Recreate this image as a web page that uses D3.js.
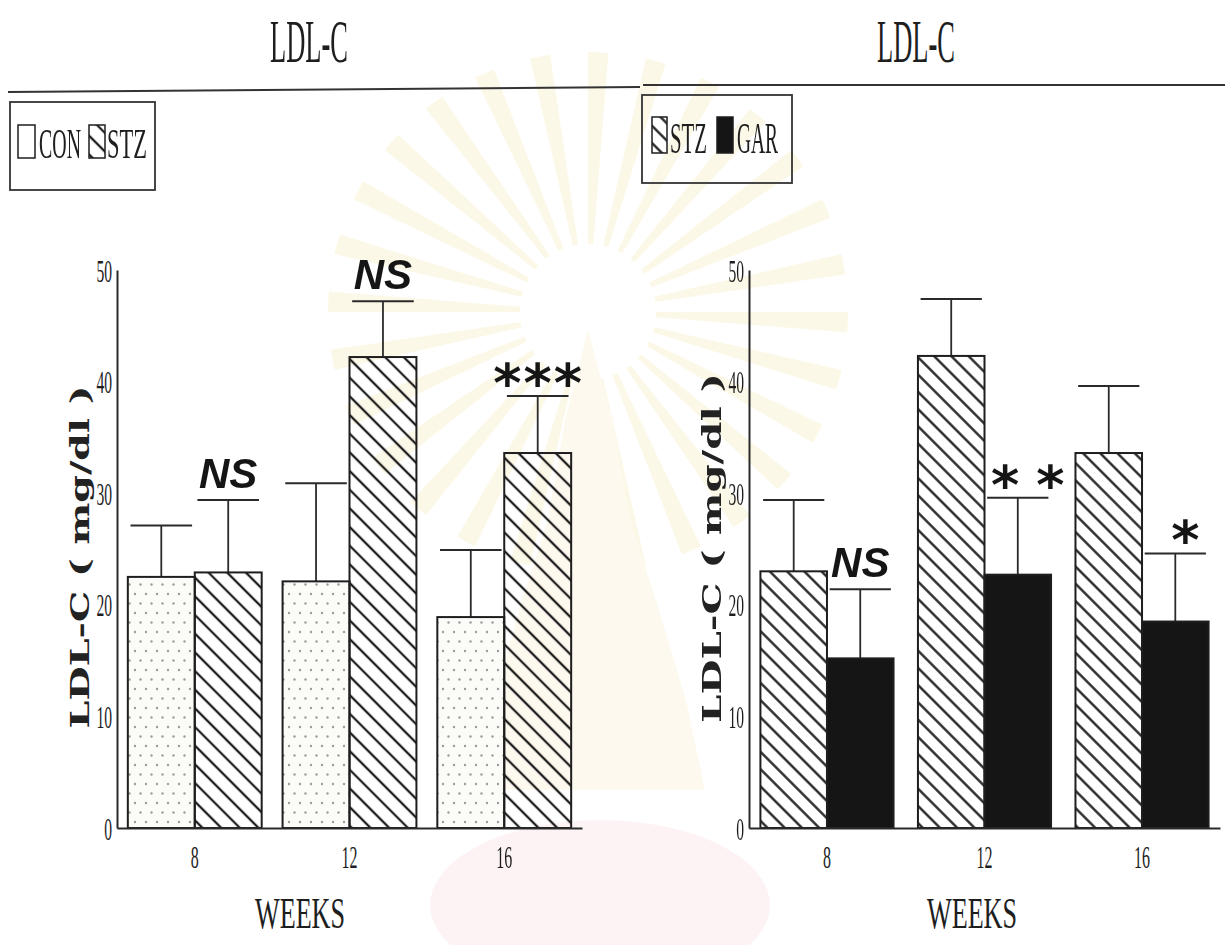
<!DOCTYPE html>
<html>
<head>
<meta charset="utf-8">
<script src="https://cdn.jsdelivr.net/npm/d3@7"></script>
<style>
  body { margin: 0; background: #fff; }
  svg { display: block; }
</style>
</head>
<body>
<svg id="chart" width="1225" height="945"></svg>
<script>
// ---- data ----------------------------------------------------------------
const weeks = ["8", "12", "16"];
const yTicks = [0, 10, 20, 30, 40, 50];

// left figure: control vs diabetic
const conMean = [22.5, 22.1, 18.9];
const conErr  = [4.6, 8.8, 6.0];
const stzMeanA = [22.9, 42.2, 33.6];
const stzErrA  = [6.5, 5.0, 5.1];
const sigA = ["NS", "NS", "***"];
const legendA = ["CON", "STZ"];

// right figure: diabetic vs treated
const stzMeanB = [23.0, 42.3, 33.6];
const stzErrB  = [6.4, 5.1, 6.0];
const garMean = [15.2, 22.7, 18.5];
const garErr  = [6.2, 6.9, 6.1];
const sigB = ["NS", "**", "*"];
const legendB = ["STZ", "GAR"];

const titleText = "LDL-C";
const yLabelText = "LDL-C ( mg/dl )";
const xLabelText = "WEEKS";

// ---- setup ---------------------------------------------------------------
const svg = d3.select("#chart");
const defs = svg.append("defs");
const INK = "#1e1e1e";
const SERIF = "'Liberation Serif', 'Times New Roman', serif";

function hatchPattern(id, gap) {
  const p = defs.append("pattern")
    .attr("id", id).attr("patternUnits", "userSpaceOnUse")
    .attr("width", gap).attr("height", gap)
    .attr("patternTransform", "rotate(-45)");
  p.append("line")
    .attr("x1", gap / 2).attr("x2", gap / 2).attr("y1", 0).attr("y2", gap)
    .attr("stroke", INK).attr("stroke-width", 2.3);
}
hatchPattern("hatchA", 13.2);
hatchPattern("hatchB", 12.2);

const dots = defs.append("pattern")
  .attr("id", "dots").attr("patternUnits", "userSpaceOnUse")
  .attr("width", 11).attr("height", 19);
dots.append("rect").attr("width", 11).attr("height", 19).attr("fill", "#fbfbf8");
dots.append("circle").attr("cx", 3).attr("cy", 5).attr("r", 1.2).attr("fill", "#9c9c9c");
dots.append("circle").attr("cx", 8.5).attr("cy", 14.5).attr("r", 1.2).attr("fill", "#9c9c9c");

// faint watermark seal behind the figures
const wm = svg.append("g").attr("opacity", 0.3);
const rays = d3.range(28);
const cx0 = 588, cy0 = 312;
wm.selectAll("path.ray").data(rays).join("path")
  .attr("class", "ray")
  .attr("transform", `translate(${cx0},${cy0})`)
  .attr("d", d => d3.arc()({
      innerRadius: 68, outerRadius: 260,
      startAngle: d * 2 * Math.PI / 28, endAngle: d * 2 * Math.PI / 28 + Math.PI / 40 }))
  .attr("fill", "#f6e6b0");
wm.append("path")
  .attr("d", "M588,330 L565,420 L548,520 L522,600 L494,700 L475,790 L705,790 L686,700 L656,600 L630,520 L612,420 Z")
  .attr("fill", "#f7ecc8");
wm.append("ellipse").attr("cx", 600).attr("cy", 905).attr("rx", 170).attr("ry", 85)
  .attr("fill", "#f8d8de");

// condensed text helper: squeezes (or stretches) the glyphs to a given width
function fitText(g, str, x, y, opts) {
  const t = g.append("text")
    .attr("font-family", opts.family || SERIF)
    .attr("font-size", opts.size)
    .attr("font-weight", opts.weight || "normal")
    .attr("fill", opts.fill || INK)
    .attr("text-anchor", opts.anchor || "middle")
    .text(str);
  const natural = t.node().getComputedTextLength();
  const s = opts.width / natural;
  t.attr("transform", `translate(${x},${y}) rotate(${opts.rotate || 0}) scale(${s},1)`);
  return t;
}

// ---- one figure ----------------------------------------------------------
function drawFigure(cfg) {
  const g = svg.append("g");
  const y = d3.scaleLinear().domain([0, 50]).range([828, 270]);
  const xg = d3.scaleBand().domain(weeks).range(cfg.range)
    .paddingInner(cfg.padIn).paddingOuter(cfg.padOut);
  const xs = d3.scaleBand().domain([0, 1]).range([0, xg.bandwidth()]);

  // title, rule, legend box
  fitText(g, titleText, cfg.titleX, 62, { size: 62, width: 78 });
  g.append("line").attr("x1", cfg.rule[0]).attr("y1", cfg.rule[1])
    .attr("x2", cfg.rule[2]).attr("y2", cfg.rule[3])
    .attr("stroke", "#333").attr("stroke-width", 2);
  const lb = cfg.legendBox;
  g.append("rect").attr("x", lb[0]).attr("y", lb[1]).attr("width", lb[2]).attr("height", lb[3])
    .attr("fill", "none").attr("stroke", "#333").attr("stroke-width", 1.8);
  cfg.legendItems.forEach((it, i) => {
    g.append("rect").attr("x", it.sx).attr("y", it.sy).attr("width", it.sw).attr("height", it.sh)
      .attr("fill", it.fill).attr("stroke", INK).attr("stroke-width", 1.5);
    fitText(g, cfg.legend[i], it.tx, it.ty, { size: cfg.legendSize, width: it.tw, anchor: "start" });
  });

  // bars with error bars
  const series = cfg.series;
  weeks.forEach((w, i) => {
    series.forEach((s, j) => {
      const x0 = xg(w) + xs(j), bw = xs.bandwidth();
      const cxm = x0 + bw / 2, cap = bw * 0.46;
      const top = y(s.mean[i]), hi = y(s.mean[i] + s.err[i]);
      g.append("line").attr("x1", cxm).attr("x2", cxm).attr("y1", top).attr("y2", hi)
        .attr("stroke", "#2a2a2a").attr("stroke-width", 1.8);
      g.append("line").attr("x1", cxm - cap).attr("x2", cxm + cap).attr("y1", hi).attr("y2", hi)
        .attr("stroke", "#2a2a2a").attr("stroke-width", 2);
      g.append("rect").attr("x", x0).attr("y", top).attr("width", bw).attr("height", y(0) - top)
        .attr("fill", s.fill).attr("stroke", INK).attr("stroke-width", 2);
    });
    // significance mark above the second bar's error bar
    const s2 = series[1];
    const cx2 = xg(w) + xs(1) + xs.bandwidth() / 2;
    const capY = y(s2.mean[i] + s2.err[i]);
    const lab = cfg.sig[i];
    if (lab === "NS") {
      g.append("text").attr("x", cx2).attr("y", capY - 12)
        .attr("font-family", "'Liberation Sans', Arial, sans-serif")
        .attr("font-weight", "bold").attr("font-style", "italic")
        .attr("font-size", 42).attr("text-anchor", "middle").attr("fill", "#151515")
        .text(lab);
    } else {
      g.append("text").attr("x", cx2 + cfg.starShift + cfg.starGap / 2).attr("y", capY + 6)
        .attr("font-family", "'DejaVu Sans', sans-serif")
        .attr("font-weight", "bold").attr("font-size", 54)
        .attr("letter-spacing", cfg.starGap)
        .attr("text-anchor", "middle").attr("fill", "#151515")
        .text(lab);
    }
  });

  // axes
  const ya = g.append("g").attr("transform", `translate(${cfg.range[0]},0)`)
    .call(d3.axisLeft(y).tickValues(yTicks).tickSize(0).tickPadding(5));
  ya.select(".domain").attr("stroke", "#2a2a2a").attr("stroke-width", 2);
  ya.selectAll(".tick text").remove();
  ya.selectAll(".tick").each(function (d) {
    fitText(d3.select(this), String(d), -5, 11, { size: 31, width: String(d).length * 7.8, anchor: "end" });
  });

  const xa = g.append("g").attr("transform", `translate(0,${y(0)})`)
    .call(d3.axisBottom(xg).tickSize(0));
  xa.select(".domain").attr("stroke", "#2a2a2a").attr("stroke-width", 2);
  xa.selectAll(".tick text").remove();
  xa.selectAll(".tick").each(function (d) {
    fitText(d3.select(this), d, 0, 40, { size: 32, width: d.length * 8 });
  });

  fitText(g, xLabelText, cfg.xLabelX, 928, { size: 44, width: 90 });

  fitText(g, yLabelText, cfg.yLabelX, cfg.yLabelY, {
    family: "'DejaVu Serif', 'Liberation Serif', serif", weight: "bold",
    size: 26, width: cfg.yLabelLen, rotate: -90, fill: "#222"
  });
}

drawFigure({
  range: [117, 582], padIn: 0.135, padOut: 0.07,
  series: [
    { mean: conMean, err: conErr, fill: "url(#dots)" },
    { mean: stzMeanA, err: stzErrA, fill: "url(#hatchA)" }
  ],
  sig: sigA, starShift: 0, starGap: 2,
  titleX: 309, rule: [8, 92, 640, 87],
  legend: legendA, legendBox: [10, 102, 145, 88], legendSize: 42,
  legendItems: [
    { sx: 18, sy: 125, sw: 17, sh: 33, fill: "none", tx: 39, ty: 158, tw: 42 },
    { sx: 89, sy: 125, sw: 16, sh: 33, fill: "url(#hatchA)", tx: 107, ty: 158, tw: 40 }
  ],
  xLabelX: 300, yLabelX: 89, yLabelY: 557, yLabelLen: 343
});

drawFigure({
  range: [749, 1220], padIn: 0.155, padOut: 0.0725,
  series: [
    { mean: stzMeanB, err: stzErrB, fill: "url(#hatchB)" },
    { mean: garMean, err: garErr, fill: "#151515" }
  ],
  sig: sigB, starShift: 10, starGap: 17,
  titleX: 916, rule: [643, 85, 1225, 85],
  legend: legendB, legendBox: [642, 95, 150, 88], legendSize: 44,
  legendItems: [
    { sx: 652, sy: 117, sw: 15, sh: 36, fill: "url(#hatchB)", tx: 670, ty: 153, tw: 37 },
    { sx: 717, sy: 117, sw: 16, sh: 36, fill: "#151515", tx: 737, ty: 153, tw: 41 }
  ],
  xLabelX: 972, yLabelX: 721, yLabelY: 548, yLabelLen: 350
});
</script>
</body>
</html>
